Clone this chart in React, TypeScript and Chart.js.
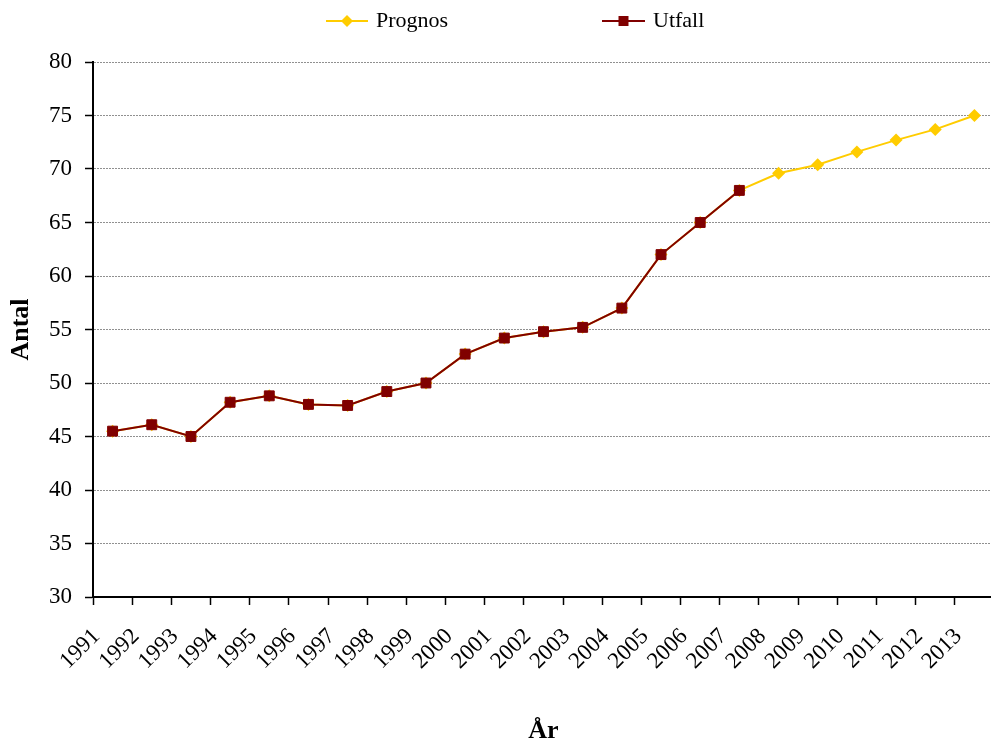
import React, { useEffect, useRef } from "react";
import { Chart, registerables } from "chart.js";

Chart.register(...registerables);

const years = [
  "1991", "1992", "1993", "1994", "1995", "1996", "1997", "1998", "1999", "2000",
  "2001", "2002", "2003", "2004", "2005", "2006", "2007", "2008", "2009", "2010",
  "2011", "2012", "2013",
];

const prognos = [
  45.5, 46.1, 45.0, 48.2, 48.8, 48.0, 47.9, 49.2, 50.0, 52.7,
  54.2, 54.8, 55.2, 57.0, 62.0, 65.0, 68.0, 69.6, 70.4, 71.6,
  72.7, 73.7, 75.0,
];

const utfall = [
  45.5, 46.1, 45.0, 48.2, 48.8, 48.0, 47.9, 49.2, 50.0, 52.7,
  54.2, 54.8, 55.2, 57.0, 62.0, 65.0, 68.0, null, null, null,
  null, null, null,
];

const yTicks = { min: 30, max: 80, step: 5 };

const PROGNOS_COLOR = "#FFCC00";
const UTFALL_COLOR = "#800000";
const FONT = '"Liberation Serif", "Times New Roman", serif';

const legendPlugin = {
  id: "customLegend",
  afterDraw(chart: any) {
    const ctx = chart.ctx;
    const items = [
      { label: "Prognos", color: PROGNOS_COLOR, style: "diamond", x1: 326, x2: 368, tx: 376 },
      { label: "Utfall", color: UTFALL_COLOR, style: "square", x1: 602, x2: 645, tx: 653 },
    ];
    const y = 21;
    ctx.save();
    for (const it of items) {
      ctx.strokeStyle = it.color;
      ctx.lineWidth = 2;
      ctx.beginPath();
      ctx.moveTo(it.x1, y);
      ctx.lineTo(it.x2, y);
      ctx.stroke();
      const cx = (it.x1 + it.x2) / 2;
      ctx.fillStyle = it.color;
      ctx.beginPath();
      if (it.style === "diamond") {
        ctx.moveTo(cx, y - 6);
        ctx.lineTo(cx + 6, y);
        ctx.lineTo(cx, y + 6);
        ctx.lineTo(cx - 6, y);
        ctx.closePath();
      } else {
        ctx.rect(cx - 5, y - 5, 10, 10);
      }
      ctx.fill();
      ctx.fillStyle = "#000";
      ctx.font = `22px ${FONT}`;
      ctx.textAlign = "left";
      ctx.textBaseline = "middle";
      ctx.fillText(it.label, it.tx, y);
    }
    ctx.restore();
  },
};

export default function App() {
  const ref = useRef<HTMLCanvasElement>(null);

  useEffect(() => {
    if (!ref.current) return;
    const chart = new Chart(ref.current, {
      type: "line",
      data: {
        labels: years,
        datasets: [
          {
            label: "Utfall",
            data: utfall,
            borderColor: UTFALL_COLOR,
            backgroundColor: UTFALL_COLOR,
            borderWidth: 2,
            pointStyle: "rect",
            pointRadius: 7,
            pointBorderWidth: 1,
            pointBorderColor: UTFALL_COLOR,
            pointBackgroundColor: UTFALL_COLOR,
            tension: 0,
            spanGaps: false,
            order: 0,
          },
          {
            label: "Prognos",
            data: prognos,
            borderColor: PROGNOS_COLOR,
            backgroundColor: PROGNOS_COLOR,
            borderWidth: 2,
            pointStyle: "rectRot",
            pointRadius: 6.5,
            pointBorderWidth: 0,
            pointBackgroundColor: PROGNOS_COLOR,
            tension: 0,
            order: 1,
          },
        ],
      },
      options: {
        responsive: false,
        animation: false,
        devicePixelRatio: 1,
        layout: { padding: { top: 62, left: 0, right: 0, bottom: 0 } },
        plugins: {
          legend: { display: false },
          tooltip: { enabled: false },
        },
        scales: {
          x: {
            type: "category",
            offset: true,
            grid: {
              offset: true,
              drawOnChartArea: false,
              drawTicks: true,
              tickLength: 8,
              tickColor: "#000",
              tickWidth: 1.5,
            },
            border: { display: true, color: "#000", width: 2 },
            ticks: {
              autoSkip: false,
              maxRotation: 45,
              minRotation: 45,
              labelOffset: -16,
              padding: 18,
              color: "#000",
              font: { family: FONT, size: 23 },
            },
            title: {
              display: true,
              text: "År",
              color: "#000",
              font: { family: FONT, size: 26, weight: "bold", lineHeight: 0.9 },
              padding: { top: 0, bottom: 0 },
            },
            afterFit(scale: any) {
              scale.height = 146;
              scale.paddingLeft = 0;
              scale.paddingRight = 0;
            },
          },
          y: {
            type: "linear",
            min: yTicks.min,
            max: yTicks.max,
            ticks: {
              stepSize: yTicks.step,
              padding: 13,
              color: "#000",
              font: { family: FONT, size: 23 },
            },
            grid: {
              color: "#909090",
              lineWidth: 1,
              drawTicks: true,
              tickLength: 8,
              tickColor: "#000",
              tickWidth: 1.5,
            },
            border: { display: true, color: "#000", width: 2, dash: [2, 1] },
            title: {
              display: true,
              text: "Antal",
              color: "#000",
              font: { family: FONT, size: 26, weight: "bold", lineHeight: 1.2 },
              padding: { top: 6, bottom: 0 },
            },
            afterFit(scale: any) {
              scale.width = 93;
            },
          },
        },
      },
      plugins: [legendPlugin],
    });
    return () => chart.destroy();
  }, []);

  return (
    <div
      style={{
        position: "fixed",
        left: 0,
        top: 0,
        width: 991,
        height: 743,
        overflow: "hidden",
        background: "#fff",
      }}
    >
      <canvas ref={ref} width={1002} height={743} style={{ display: "block" }} />
    </div>
  );
}
